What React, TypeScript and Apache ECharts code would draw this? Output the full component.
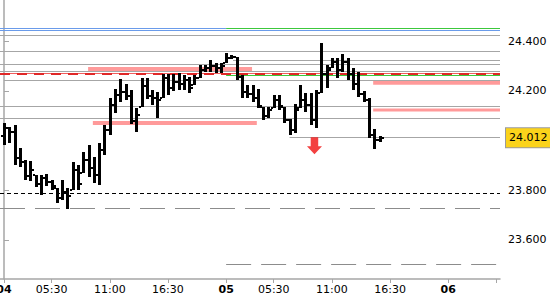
import React, { useEffect, useRef } from "react";
import * as echarts from "echarts";

// ---- data ----
const opens = [24.018, 24.051, 24.035, 23.930, 23.914, 23.857, 23.861, 23.825, 23.849, 23.833, 23.809, 23.769, 23.793, 23.801, 23.882, 23.870, 23.922, 23.890, 23.861, 23.962, 24.043, 24.143, 24.184, 24.196, 24.180, 24.079, 24.135, 24.220, 24.180, 24.171, 24.171, 24.252, 24.212, 24.236, 24.228, 24.244, 24.224, 24.252, 24.284, 24.292, 24.300, 24.292, 24.312, 24.333, 24.337, 24.256, 24.196, 24.188, 24.171, 24.135, 24.099, 24.131, 24.163, 24.135, 24.083, 24.043, 24.131, 24.163, 24.143, 24.083, 24.192, 24.268, 24.292, 24.316, 24.284, 24.316, 24.268, 24.228, 24.188, 24.163, 24.023, 24.002];
const closes = [24.051, 24.035, 23.930, 23.914, 23.857, 23.882, 23.825, 23.849, 23.833, 23.817, 23.769, 23.793, 23.777, 23.882, 23.825, 23.922, 23.890, 23.861, 23.962, 24.043, 24.143, 24.184, 24.196, 24.180, 24.079, 24.103, 24.220, 24.180, 24.171, 24.163, 24.252, 24.212, 24.236, 24.228, 24.244, 24.212, 24.252, 24.284, 24.292, 24.300, 24.292, 24.300, 24.333, 24.337, 24.256, 24.196, 24.188, 24.171, 24.139, 24.099, 24.123, 24.163, 24.139, 24.083, 24.043, 24.123, 24.163, 24.143, 24.083, 24.192, 24.268, 24.284, 24.316, 24.284, 24.316, 24.268, 24.228, 24.188, 24.163, 24.023, 24.002, 24.012];
const lows = [23.982, 23.990, 23.902, 23.894, 23.841, 23.837, 23.813, 23.781, 23.817, 23.801, 23.749, 23.761, 23.725, 23.801, 23.801, 23.870, 23.853, 23.829, 23.821, 23.942, 24.023, 24.111, 24.155, 24.163, 24.067, 24.035, 24.135, 24.167, 24.143, 24.091, 24.171, 24.184, 24.200, 24.204, 24.204, 24.192, 24.224, 24.252, 24.276, 24.276, 24.272, 24.272, 24.312, 24.328, 24.244, 24.171, 24.171, 24.155, 24.131, 24.083, 24.091, 24.131, 24.123, 24.071, 24.023, 24.031, 24.131, 24.115, 24.063, 24.051, 24.192, 24.212, 24.292, 24.252, 24.276, 24.244, 24.204, 24.175, 24.155, 24.010, 23.966, 23.994];
const highs = [24.071, 24.055, 24.063, 23.970, 23.922, 23.918, 23.861, 23.861, 23.866, 23.841, 23.809, 23.841, 23.809, 23.914, 23.902, 23.954, 23.982, 23.934, 23.990, 24.063, 24.171, 24.208, 24.248, 24.228, 24.204, 24.131, 24.252, 24.252, 24.204, 24.196, 24.268, 24.268, 24.268, 24.272, 24.264, 24.256, 24.264, 24.304, 24.304, 24.324, 24.312, 24.312, 24.353, 24.345, 24.337, 24.264, 24.224, 24.224, 24.208, 24.135, 24.135, 24.184, 24.184, 24.135, 24.087, 24.147, 24.224, 24.192, 24.192, 24.204, 24.393, 24.304, 24.333, 24.333, 24.349, 24.333, 24.292, 24.276, 24.200, 24.171, 24.047, 24.018];

const xTickIndex = [0, 9, 20, 31, 42, 51, 62, 73, 84];
const xTickLabels = ["04", "05:30", "11:00", "16:30", "05", "05:30", "11:00", "16:30", "06"];
const xTickDay = [true, false, false, false, true, false, false, false, true];
const xExtraTicks = [93];
const yTickValues = [23.6, 23.8, 24.2, 24.4];

const grayLevels = [24.425, 24.361, 24.307, 24.279, 24.140, 24.090];
const blueLevels = [24.4435];
const blueGreenLevel = 24.4535;
const greenLevel = 24.263;
const grayPartialLevels = [24.3235, 24.244];
const grayPartialStart = [43.3, 0];
const redLevel = 24.271;
const blackDashLevel = 23.788;
const longDashLevels = [23.729, 23.502];
const longDashStart = [null, 42];
const dayTwoStart = 42;
const zonesLow = [24.280, 24.063, 24.225, 24.117];
const zonesHigh = [24.296, 24.079, 24.240, 24.129];
const zonesFrom = [15.9, 16.8, 69.8, 69.8];
const zonesTo = [46.9, 47.8, null, null];
const priceLineStart = 54;
const signalX = [58.7];
const signalY = [23.979];

const X_MIN = -0.756;
const X_MAX = 93.78;
const Y_MIN = 23.443;
const Y_MAX = 24.566;

const FONT = "DejaVu Sans";
const GRAY = "#a6a6a6";

export default function App() {
  const ref = useRef<HTMLDivElement>(null);

  useEffect(() => {
    if (!ref.current) return;
    const chart = echarts.init(ref.current, undefined, { renderer: "svg" });

    const ohlc = opens.map((o, i) => [i, o, closes[i], lows[i], highs[i]]);
    const lastClose = closes[closes.length - 1];

    const seg = (v: number, from: number, to: number, lineStyle: any) => [
      { coord: [from, v], lineStyle },
      { coord: [to, v] },
    ];

    const lines: any[] = [];
    grayLevels.forEach((v) => lines.push(seg(v, X_MIN, X_MAX, { color: GRAY, width: 1, type: "solid" })));
    grayPartialLevels.forEach((v, i) =>
      lines.push(seg(v, grayPartialStart[i], X_MAX, { color: GRAY, width: 1, type: "solid" }))
    );
    blueLevels.forEach((v) => lines.push(seg(v, X_MIN, X_MAX, { color: "#6a9bea", width: 1.2, type: "solid" })));
    lines.push(seg(blueGreenLevel, X_MIN, dayTwoStart, { color: "#6a9bea", width: 1.2, type: "solid" }));
    lines.push(seg(blueGreenLevel, dayTwoStart, X_MAX, { color: "#3cc83c", width: 1.2, type: "solid" }));
    lines.push(seg(greenLevel, dayTwoStart, X_MAX, { color: "#3cc83c", width: 1.1, type: "solid" }));
    lines.push(seg(redLevel - 0.0015, X_MIN, X_MAX, { color: "#e33", width: 0.8, type: "solid" }));
    lines.push(seg(redLevel, X_MIN, X_MAX, { color: "#e02828", width: 1.8, type: [10, 7] }));
    lines.push(seg(blackDashLevel, X_MIN, X_MAX, { color: "#000", width: 1, type: [4, 3] }));
    longDashLevels.forEach((v, i) =>
      lines.push(
        seg(v, longDashStart[i] == null ? X_MIN : (longDashStart[i] as number), i === 1 ? 93.2 : X_MAX, {
          color: "#8c8c8c",
          width: 1,
          type: [25, 10],
        })
      )
    );

    const areas = zonesLow.map((lo, i) => [
      { coord: [zonesFrom[i], zonesHigh[i]] },
      { coord: [zonesTo[i] == null ? X_MAX : zonesTo[i], lo] },
    ]);

    const priceLabel = {
      show: true,
      position: "end",
      distance: 6,
      formatter: () => lastClose.toFixed(3),
      color: "#000",
      fontFamily: FONT,
      fontSize: 11,
      backgroundColor: "#fbd31b",
      borderColor: "#9a9a9a",
      borderWidth: 1,
      padding: [4, 5, 4, 3],
    };

    chart.setOption({
      animation: false,
      backgroundColor: "#fff",
      grid: { left: 0, right: 50, top: 0, bottom: 21, outerBoundsMode: "none", containLabel: false },
      xAxis: {
        type: "value",
        min: X_MIN,
        max: X_MAX,
        splitLine: { show: false },
        axisLine: { show: true, lineStyle: { color: GRAY, width: 1.5 } },
        axisTick: {
          show: true,
          length: 4,
          lineStyle: { color: GRAY },
          customValues: [...xTickIndex, ...xExtraTicks],
        },
        axisLabel: {
          customValues: xTickIndex,
          margin: 5,
          fontFamily: FONT,
          fontSize: 11,
          color: "#000",
          hideOverlap: false,
          formatter: (v: number) => {
            const k = xTickIndex.findIndex((t) => Math.abs(t - v) < 0.01);
            if (k < 0) return "";
            return xTickDay[k] ? "{b|" + xTickLabels[k] + "}" : xTickLabels[k];
          },
          rich: { b: { fontWeight: "bold", fontFamily: FONT, fontSize: 11, color: "#000" } },
        },
      },
      yAxis: {
        type: "value",
        position: "right",
        min: Y_MIN,
        max: Y_MAX,
        scale: true,
        splitLine: { show: false },
        axisLine: { show: true, lineStyle: { color: GRAY, width: 1.5 } },
        axisTick: { show: true, length: 5, lineStyle: { color: GRAY }, customValues: yTickValues },
        axisLabel: {
          customValues: yTickValues,
          margin: 8,
          fontFamily: FONT,
          fontSize: 11,
          color: "#000",
          formatter: (v: number) => v.toFixed(3),
        },
      },
      series: [
        {
          type: "line",
          data: [],
          z: 1,
          silent: true,
          markArea: {
            silent: true,
            itemStyle: { color: "#ff9a9a", opacity: 1 },
            label: { show: false },
            data: areas,
          },
          markLine: {
            silent: true,
            symbol: ["none", "none"],
            label: { show: false },
            data: lines,
          },
        },
        {
          type: "line",
          data: [],
          z: 2,
          silent: true,
          markLine: {
            silent: true,
            symbol: ["none", "none"],
            data: [
              [
                { coord: [priceLineStart, lastClose], lineStyle: { color: GRAY, width: 1, type: "solid" }, label: priceLabel },
                { coord: [X_MAX, lastClose], label: priceLabel },
              ],
            ],
          },
        },
        {
          type: "custom",
          z: 5,
          data: ohlc,
          encode: { x: 0, y: [1, 2, 3, 4] },
          renderItem: (params: any, api: any) => {
            const x = api.value(0);
            const pH = api.coord([x, api.value(4)]);
            const pL = api.coord([x, api.value(3)]);
            const pO = api.coord([x, api.value(1)]);
            const pC = api.coord([x, api.value(2)]);
            const cx = Math.round(pH[0]);
            const top = Math.round(pH[1]);
            const bot = Math.round(pL[1]);
            return {
              type: "group",
              children: [
                { type: "rect", shape: { x: cx - 1, y: top, width: 3, height: Math.max(2, bot - top) }, style: { fill: "#000" } },
                { type: "rect", shape: { x: cx - 3, y: Math.round(pO[1]) - 1, width: 2, height: 2 }, style: { fill: "#000" } },
                { type: "rect", shape: { x: cx + 2, y: Math.round(pC[1]) - 1, width: 2, height: 2 }, style: { fill: "#000" } },
              ],
            };
          },
        },
        {
          type: "scatter",
          z: 6,
          silent: true,
          data: signalX.map((x, i) => [x, signalY[i]]),
          symbol: "path://M4,0 L12,0 L12,9 L16,9 L8,17 L0,9 L4,9 Z",
          symbolSize: [15, 17],
          itemStyle: { color: "#f01010" },
        },
      ],
    });

    return () => chart.dispose();
  }, []);

  return (
    <div
      ref={ref}
      style={{ position: "fixed", left: 0, top: 0, width: 550, height: 300, background: "#fff" }}
    />
  );
}
